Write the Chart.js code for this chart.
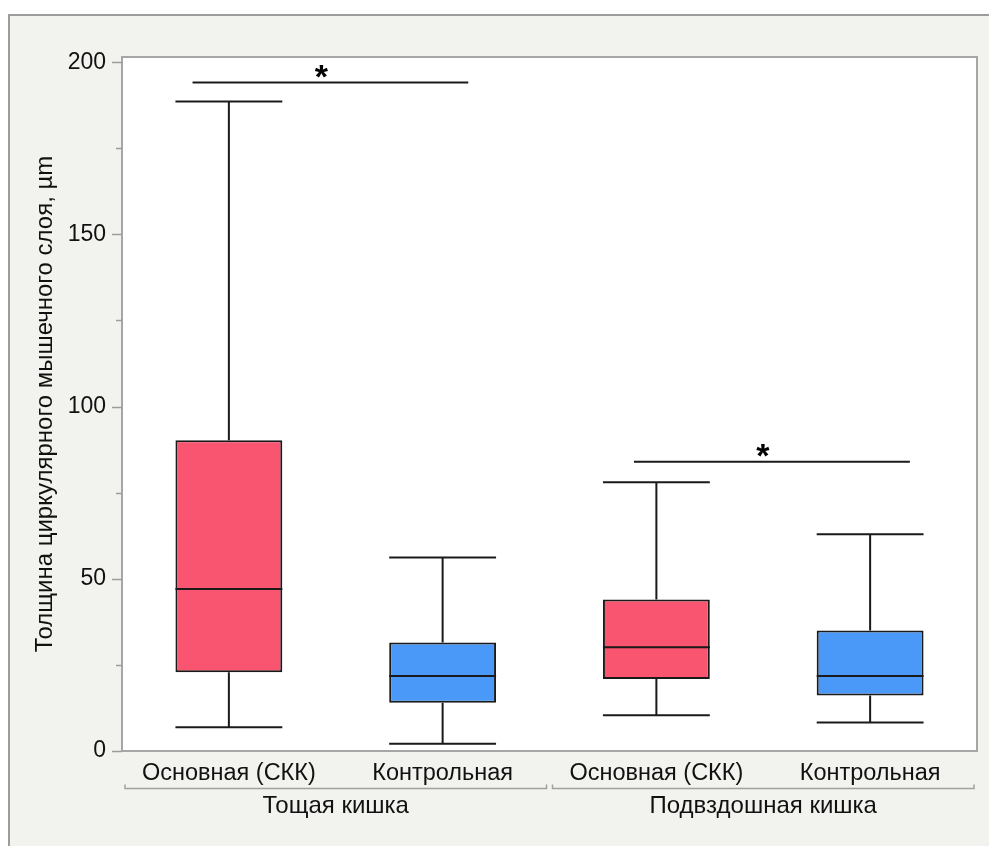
<!DOCTYPE html>
<html>
<head>
<meta charset="utf-8">
<script src="https://cdn.jsdelivr.net/npm/chart.js@4.4.1/dist/chart.umd.min.js"></script>
<style>
  html, body { margin: 0; padding: 0; background: #fff; }
  #frame {
    position: absolute; left: 8px; top: 14px; width: 981px; height: 832px;
    background: #f2f2ee; border-top: 2px solid #9c9c9c; border-left: 2px solid #9c9c9c;
    box-sizing: border-box;
  }
  #chart { position: absolute; left: 0; top: 0; }
</style>
</head>
<body>
<div id="frame"></div>
<canvas id="chart" width="989" height="846"></canvas>
<script>
const categories = ['Основная (СКК)', 'Контрольная', 'Основная (СКК)', 'Контрольная'];
const groups = ['Тощая кишка', 'Подвздошная кишка'];
const whiskerLow = [6.9, 2.1, 10.4, 8.3];
const q1 = [22.9, 14.0, 20.9, 16.1];
const median = [47.0, 21.8, 30.1, 21.8];
const q3 = [90.2, 31.5, 44.0, 35.0];
const whiskerHigh = [188.6, 56.2, 78.0, 62.9];
const boxColors = ['#fa5570', '#4a98f7', '#fa5570', '#4a98f7'];

// significance bars: y value, start/end in category units
const sigLevel = [194.1, 84.0];
const sigFrom = [-0.17, 1.895];
const sigTo = [1.12, 3.186];

const yTitle = 'Толщина циркулярного мышечного слоя, µm';
const FONT = '"Liberation Sans", Arial, Helvetica, sans-serif';

const boxPlot = {
  id: 'boxPlot',
  beforeDraw(chart) {
    const { ctx, chartArea: a } = chart;
    ctx.save();
    ctx.fillStyle = '#fff';
    ctx.fillRect(a.left, a.top, a.right - a.left, a.bottom - a.top);
    ctx.restore();
  },
  afterDraw(chart) {
    const { ctx, chartArea: a } = chart;
    const x = chart.scales.x, y = chart.scales.y;
    const meta = chart.getDatasetMeta(0);
    ctx.save();

    // plot border
    ctx.strokeStyle = '#a6a6a6';
    ctx.lineWidth = 2;
    ctx.strokeRect(a.left, a.top, a.right - a.left, a.bottom - a.top);

    // y ticks (major + minor)
    for (let v = 0; v <= 200; v += 25) {
      const py = Math.round(y.getPixelForValue(v)) + 0.5;
      const len = v % 50 === 0 ? 10 : 6;
      ctx.strokeStyle = '#9c9c9c';
      ctx.lineWidth = 1.5;
      ctx.beginPath();
      ctx.moveTo(a.left - len, py);
      ctx.lineTo(a.left, py);
      ctx.stroke();
    }

    // whiskers and medians
    ctx.strokeStyle = '#1a1a1a';
    ctx.lineWidth = 2;
    meta.data.forEach((bar, i) => {
      const cx = bar.x;
      const hw = bar.width / 2;
      const yHi = y.getPixelForValue(whiskerHigh[i]);
      const yLo = y.getPixelForValue(whiskerLow[i]);
      const yQ3 = y.getPixelForValue(q3[i]);
      const yQ1 = y.getPixelForValue(q1[i]);
      const yMed = y.getPixelForValue(median[i]);
      ctx.beginPath();
      ctx.moveTo(cx, yQ3); ctx.lineTo(cx, yHi);
      ctx.moveTo(cx, yQ1); ctx.lineTo(cx, yLo);
      ctx.moveTo(cx - hw, yHi); ctx.lineTo(cx + hw, yHi);
      ctx.moveTo(cx - hw, yLo); ctx.lineTo(cx + hw, yLo);
      ctx.moveTo(cx - hw, yMed); ctx.lineTo(cx + hw, yMed);
      ctx.stroke();
    });

    // significance bars
    ctx.fillStyle = '#000';
    ctx.font = 'bold 34px ' + FONT;
    ctx.textAlign = 'center';
    ctx.textBaseline = 'middle';
    sigLevel.forEach((lv, i) => {
      const x0 = x.getPixelForValue(sigFrom[i]);
      const x1 = x.getPixelForValue(sigTo[i]);
      const py = y.getPixelForValue(lv);
      ctx.beginPath();
      ctx.moveTo(x0, py); ctx.lineTo(x1, py);
      ctx.stroke();
      ctx.fillText('*', (x0 + x1) / 2 - 9, py - 4);
    });

    // group brackets and labels
    const step = x.getPixelForValue(1) - x.getPixelForValue(0);
    groups.forEach((g, gi) => {
      const gl = x.getPixelForValue(gi * 2) - step / 2;
      const gr = x.getPixelForValue(gi * 2 + 1) + step / 2;
      const by = 788.5;
      ctx.strokeStyle = '#a0a0a0';
      ctx.lineWidth = 1.5;
      ctx.beginPath();
      ctx.moveTo(gl + 3, by - 4); ctx.lineTo(gl + 3, by);
      ctx.lineTo(gr - 3, by); ctx.lineTo(gr - 3, by - 4);
      ctx.stroke();
      ctx.fillStyle = '#111';
      ctx.font = '24px ' + FONT;
      ctx.fillText(g, (gl + gr) / 2, 806);
    });

    // y axis title
    ctx.translate(45, (a.top + a.bottom) / 2);
    ctx.rotate(-Math.PI / 2);
    ctx.fillStyle = '#111';
    ctx.font = '24px ' + FONT;
    ctx.fillText(yTitle, 0, 0);
    ctx.restore();
  }
};

new Chart(document.getElementById('chart'), {
  type: 'bar',
  data: {
    labels: categories,
    datasets: [{
      data: q1.map((v, i) => [v, q3[i]]),
      backgroundColor: boxColors,
      borderColor: '#1a1a1a',
      borderWidth: 2,
      borderSkipped: false,
      barPercentage: 0.5,
      categoryPercentage: 1
    }]
  },
  options: {
    responsive: false,
    animation: false,
    layout: { padding: { left: 0, top: 57, right: 12, bottom: 0 } },
    plugins: { legend: { display: false }, tooltip: { enabled: false } },
    scales: {
      x: {
        grid: { display: false },
        border: { display: false },
        ticks: { color: '#111', font: { family: FONT, size: 23.5 }, padding: 0, maxRotation: 0 },
        afterFit(s) { s.height = 95; }
      },
      y: {
        min: 0,
        max: 201.5,
        grid: { display: false },
        border: { display: false },
        ticks: {
          stepSize: 25,
          includeBounds: false,
          color: '#111',
          font: { family: FONT, size: 23 },
          padding: 8,
          callback: v => (v % 50 === 0 ? v : '')
        },
        afterFit(s) { s.width = 122; }
      }
    }
  },
  plugins: [boxPlot]
});
</script>
</body>
</html>
